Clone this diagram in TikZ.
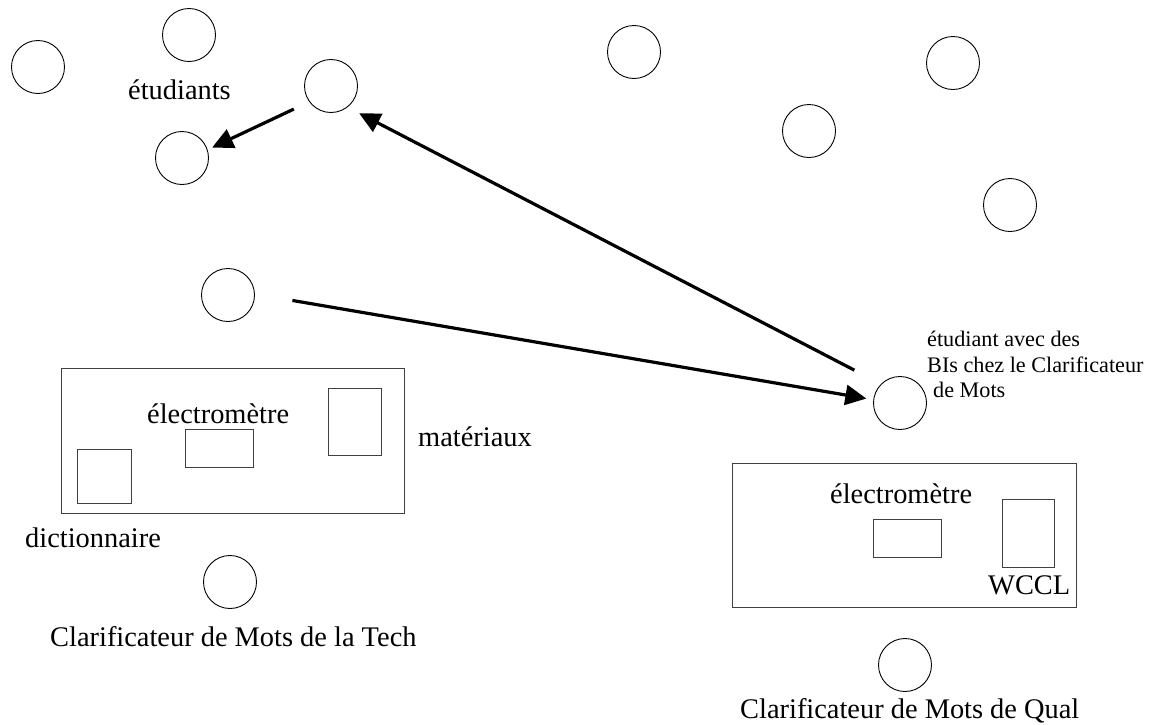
\documentclass[tikz,border=0pt]{standalone}
\usepackage{fontspec}
\setmainfont{Liberation Serif}
\usetikzlibrary{arrows.meta}
\tikzset{
  pers/.style={circle, draw=black, line width=0.9pt, minimum size=53pt, inner sep=0pt},
  box/.style={rectangle, draw=black!75, line width=0.9pt, inner sep=0pt},
  lbl/.style={anchor=base west, inner sep=0pt, font=\fontsize{28.4}{30}\selectfont},
  small/.style={anchor=base west, inner sep=0pt, font=\fontsize{22.2}{25.5}\selectfont},
  arr/.style={line width=3.2pt, -{Triangle[length=21pt, width=20pt]}},
}
\begin{document}
\begin{tikzpicture}[x=1pt, y=-1pt]
\useasboundingbox (0,0) rectangle (1153,724);
% persons
\node[pers] (A) at (38,67) {};
\node[pers] (B) at (189,35) {};
\node[pers] (C) at (331,86) {};
\node[pers] (D) at (182,158) {};
\node[pers] (E) at (634,52) {};
\node[pers] (F) at (953,63) {};
\node[pers] (G) at (809,131) {};
\node[pers] (H) at (1010,205) {};
\node[pers] (I) at (228,295) {};
\node[pers] (J) at (900,403) {};
\node[pers] (T) at (230,582) {};
\node[pers] (Q) at (905,665) {};
% left station
\node[box, minimum width=343pt, minimum height=145pt] (LB) at (232.5,440.5) {};
\node[box, minimum width=54pt, minimum height=54pt] (Ldict) at (104,476) {};
\node[box, minimum width=68pt, minimum height=38pt] (Lel) at (219,448) {};
\node[box, minimum width=53pt, minimum height=67pt] (Lmat) at (354.5,421.5) {};
% right station
\node[box, minimum width=344pt, minimum height=144pt] (RB) at (904,535) {};
\node[box, minimum width=68pt, minimum height=38pt] (Rel) at (907,538) {};
\node[box, minimum width=52pt, minimum height=68pt] (Rw) at (1028,533) {};
% labels
\node[lbl] (tetu) at (128,99) {étudiants};
\node[lbl] (tel1) at (147,423) {électromètre};
\node[lbl] (tmat) at (418,446) {matériaux};
\node[lbl] (tdic) at (25,547) {dictionnaire};
\node[lbl] (ttech) at (50,646) {Clarificateur de Mots de la Tech};
\node[lbl] (tel2) at (830,503) {électromètre};
\node[lbl] (twccl) at (988,594) {WCCL};
\node[lbl] (tqual) at (740,718) {Clarificateur de Mots de Qual};
\node[small] (ts1) at (927,346) {étudiant avec des};
\node[small] (ts2) at (927,372) {BIs chez le Clarificateur};
\node[small] (ts3) at (933,397) {de Mots};
% arrows
\draw[arr, shorten <=17pt, shorten >=5pt] (C.-144) -- (D.18);
\draw[arr, shorten <=38pt, shorten >=7pt] (I.2) -- (J.173);
\draw[arr, shorten <=30pt, shorten >=13pt] (J.135) -- (C.-52);
\end{tikzpicture}
\end{document}
